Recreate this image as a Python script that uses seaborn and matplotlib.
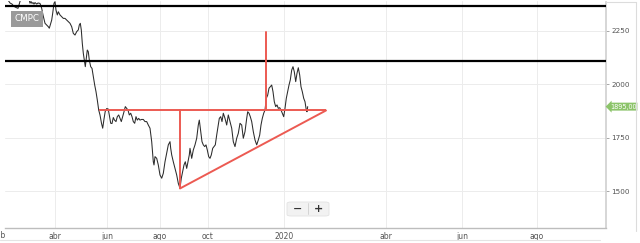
import matplotlib
matplotlib.use("Agg")
import matplotlib.pyplot as plt
import seaborn as sns
import pandas as pd
from matplotlib.patches import FancyBboxPatch

# ---------------- data ----------------
session = [0, 3, 5, 7, 9, 11, 13, 14.5, 16, 20, 24, 25, 26, 27, 28, 29, 30, 31.7, 33, 35,
           36.7, 38, 40, 41.7, 43.3, 44.3, 45.7, 46.7, 47.7, 49, 50, 51, 52.3, 53.3, 55, 56.7,
           58.3, 60, 61.7, 63.3, 65, 66.7, 68.3, 70, 71.7, 73.3, 74.3, 75.3, 76.3, 77.3, 78.3,
           79.3, 80.3, 81.3, 82.3, 83.3, 84.3, 85.7, 87, 88.3, 89.7, 91, 92.3, 93.7, 95, 96.5,
           97.7, 99, 100.2, 101.7, 103.2, 104.3, 105.7, 107, 108.3, 109.5, 111, 112.3, 113.7,
           115, 116.3, 117.7, 119, 120.3, 121.7, 123, 124.3, 125.7, 127, 128.3, 129.7, 131,
           132.3, 133.7, 135, 136.5, 138.3, 140, 141.7, 143.3, 145, 146.7, 148.3, 149, 150,
           151.7, 153.3, 155, 156.7, 158.3, 160, 161.7, 163.3, 165, 165.7, 166.7, 168.3, 170,
           171.7, 173.3, 175, 176.3, 177.7, 179, 180.3, 181.7, 183, 184.3, 185, 186.7, 188.3,
           190, 191.7, 193.3, 194.3, 195.7, 197, 198.3, 199.7, 201, 202.3, 203.7, 205, 206.3,
           207.7, 209, 210.3, 211.7, 213, 214.3, 215.7, 217, 218.3, 220, 221.7, 223.3, 225,
           226.7, 228.3, 230, 231.7, 233.3, 235, 236.7, 238.3, 240, 241.7, 242.7, 244, 245.3,
           246.7, 248.3, 250, 251.7, 253.3, 254.7, 256, 257.3, 258.7, 260, 261.3, 262.7, 264,
           265.3, 266.7, 268, 269.3, 270.7, 272, 273.3, 274.7, 276, 277.3, 278.7, 280, 281.3,
           282.7, 284, 285.3, 286.7, 288, 289.3, 290.7, 292, 293.3, 294.7, 296, 297.3, 298.7,
           300, 301.3, 302, 302.7]
price = [2408, 2394, 2380, 2375, 2364, 2359, 2355, 2380, 2403, 2413, 2399, 2379, 2387, 2378,
         2382, 2375, 2382, 2375, 2380, 2378, 2355, 2324, 2285, 2277, 2269, 2262, 2285, 2300,
         2332, 2379, 2386, 2347, 2324, 2339, 2324, 2316, 2308, 2308, 2300, 2292, 2285, 2269,
         2238, 2230, 2246, 2254, 2277, 2285, 2254, 2191, 2145, 2113, 2082, 2121, 2160, 2152,
         2113, 2082, 2074, 2035, 1996, 1965, 1926, 1879, 1856, 1817, 1794, 1837, 1872, 1886,
         1884, 1856, 1817, 1816, 1844, 1832, 1825, 1848, 1856, 1840, 1825, 1848, 1871, 1895,
         1887, 1879, 1856, 1864, 1848, 1825, 1817, 1848, 1832, 1840, 1832, 1835, 1835, 1825,
         1825, 1809, 1794, 1731, 1637, 1622, 1661, 1653, 1622, 1575, 1560, 1583, 1637, 1677,
         1716, 1731, 1700, 1669, 1637, 1606, 1575, 1536, 1513, 1560, 1591, 1622, 1637, 1606,
         1637, 1669, 1700, 1653, 1692, 1716, 1747, 1809, 1832, 1778, 1731, 1716, 1708, 1716,
         1692, 1661, 1653, 1669, 1700, 1708, 1716, 1762, 1801, 1840, 1848, 1825, 1864, 1840,
         1809, 1856, 1825, 1794, 1731, 1708, 1747, 1770, 1817, 1809, 1747, 1778, 1840, 1871,
         1864, 1848, 1825, 1778, 1739, 1716, 1739, 1762, 1809, 1840, 1864, 1879, 1934, 1949,
         1981, 1988, 1996, 1965, 1918, 1895, 1903, 1887, 1890, 1879, 1864, 1848, 1887, 1934,
         1965, 1996, 2020, 2066, 2082, 2058, 2012, 2051, 2077, 2043, 1988, 1965, 1934, 1918,
         1879, 1871, 1895]

# drawn analysis lines
resistance_levels = [2367, 2110]
neckline = 1877
triangle_low = 1512
target_top = 2242
neck_start, apex_session, target_session, neck_end = 94, 175, 261, 321

tick_sessions = [50, 102, 155, 203, 279, 381, 457, 532]
tick_labels = ["abr", "jun", "ago", "oct", "2020", "abr", "jun", "ago"]
first_label_session, first_label = -5, "feb"
y_ticks = [1500, 1750, 2000, 2250]
y_tick_labels = ["1500", "1750", "2000", "2250"]
last_price_label = "1895,00"
symbol = "CMPC"

# ---------------- figure ----------------
sns.set_style("white")
plt.rcParams["font.family"] = ["DejaVu Sans"]

fig = plt.figure(figsize=(6.4, 2.43), dpi=100)
ax = fig.add_axes([5 / 640, 15 / 243, 601 / 640, 226.5 / 243])
ax.set_xlim(0, 601)
ax.set_ylim(1327, 2387)

# grid
for t in tick_sessions:
    ax.axvline(t, color="#ececec", lw=0.7, zorder=0)
for v in y_ticks:
    ax.axhline(v, color="#ececec", lw=0.7, zorder=0)

df = pd.DataFrame({"session": session, "price": price})
sns.lineplot(data=df, x="session", y="price", ax=ax, color="#2b2b2b", lw=0.75,
             estimator=None, sort=False, zorder=3)

red = "#ec5a52"
for lvl in resistance_levels:
    ax.axhline(lvl, color="black", lw=1.6, zorder=4)
ax.plot([neck_start, neck_end], [neckline, neckline], color=red, lw=1.4, zorder=5,
        solid_capstyle="butt")
ax.plot([apex_session, apex_session], [neckline, triangle_low], color=red, lw=1.4, zorder=5)
ax.plot([apex_session, neck_end], [triangle_low, neckline], color=red, lw=1.4, zorder=5)
ax.plot([target_session, target_session], [neckline, target_top], color=red, lw=1.4, zorder=5)

# axes styling
for s in ["top", "left"]:
    ax.spines[s].set_visible(False)
ax.spines["right"].set_color("#cfcfcf")
ax.spines["bottom"].set_color("#bdbdbd")
ax.spines["right"].set_linewidth(1.2)
ax.spines["bottom"].set_linewidth(1.0)
ax.yaxis.tick_right()
ax.set_yticks(y_ticks)
ax.set_yticklabels(y_tick_labels)
ax.set_xticks(tick_sessions)
ax.set_xticklabels(tick_labels)
ax.tick_params(axis="y", length=2.5, width=0.6, color="#999999", labelsize=5.2,
               labelcolor="#555555", pad=1.5)
ax.tick_params(axis="x", length=2, width=0.6, color="#cccccc", labelsize=5.5,
               labelcolor="#555555", pad=0.8)
ax.set_xlabel("")
ax.set_ylabel("")
ax.text(first_label_session, -0.012, first_label, transform=ax.get_xaxis_transform(),
        ha="center", va="top", fontsize=5.5, color="#555555", clip_on=False)

# symbol label
ax.text(0.0155, 0.923, symbol, transform=ax.transAxes, ha="left", va="center",
        fontsize=6.3, color="white", zorder=6,
        bbox=dict(boxstyle="square,pad=0.4", fc="#9a9a9a", ec="none"))

# last price flag
ax.annotate(last_price_label, xy=(1.0, price[-1]), xycoords=("axes fraction", "data"),
            xytext=(2.8, 0), textcoords="offset points", ha="left", va="center",
            fontsize=4.7, color="white", annotation_clip=False, zorder=7,
            bbox=dict(boxstyle="larrow,pad=0.15", fc="#8cc46a", ec="none"))

# zoom buttons
fig.patches.append(FancyBboxPatch((287 / 640, (243 - 216) / 243), 42 / 640, 14 / 243,
                                  boxstyle="round,pad=0,rounding_size=0.006",
                                  transform=fig.transFigure, fc="#f2f2f2", ec="#e2e2e2",
                                  lw=0.6, figure=fig))
fig.text(298 / 640, (243 - 208.5) / 243, "\u2212", ha="center", va="center", fontsize=8,
         color="#333333", fontweight="bold")
fig.text(318.5 / 640, (243 - 208.5) / 243, "+", ha="center", va="center", fontsize=8,
         color="#333333", fontweight="bold")
fig.add_artist(plt.Line2D([308 / 640, 308 / 640], [(243 - 214) / 243, (243 - 203) / 243],
                          transform=fig.transFigure, color="#cfcfcf", lw=0.6))

# outer frame lines on the right / bottom
fig.add_artist(plt.Line2D([636 / 640, 636 / 640], [(243 - 231) / 243, (243 - 2.5) / 243],
                          transform=fig.transFigure, color="#dcdcdc", lw=0.8))
fig.add_artist(plt.Line2D([606 / 640, 636 / 640], [(243 - 2.5) / 243, (243 - 2.5) / 243],
                          transform=fig.transFigure, color="#dcdcdc", lw=0.8))
fig.add_artist(plt.Line2D([0, 600 / 640], [(243 - 239.5) / 243, (243 - 239.5) / 243],
                          transform=fig.transFigure, color="#e4e4e4", lw=0.8))

fig.savefig("out.png", dpi=100)
